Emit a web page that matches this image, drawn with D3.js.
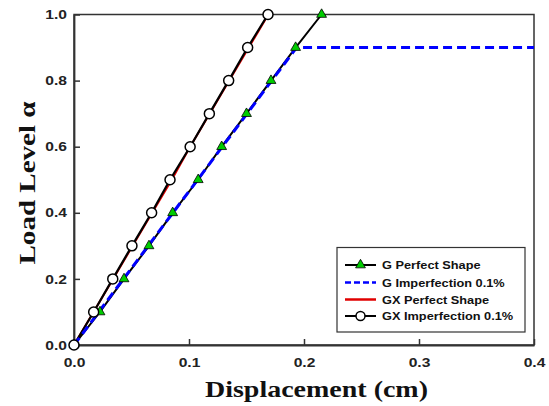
<!DOCTYPE html>
<html><head><meta charset="utf-8">
<script src="https://cdn.jsdelivr.net/npm/d3@7/dist/d3.min.js"></script>
<style>body{margin:0;background:#fff}svg{display:block}</style>
</head><body>
<svg id="c" width="549" height="406"></svg>
<script>
const loadLevels = [0,0.1,0.2,0.3,0.4,0.5,0.6,0.7,0.8,0.9,1.0];
const gPerfectX = [0,0.0226,0.0435,0.0652,0.0858,0.108,0.1284,0.150,0.1713,0.1927,0.2153];
const gImperfX = [0,0.0215,0.043,0.0645,0.086,0.1075,0.129,0.1505,0.172,0.1935,0.4];
const gImperfY = [0,0.1,0.2,0.3,0.4,0.5,0.6,0.7,0.8,0.9,0.9];
const gxPerfectX = [0,0.017,0.034,0.051,0.068,0.085,0.101,0.118,0.135,0.152,0.169];
const gxImperfX = [0,0.0171,0.0337,0.0504,0.0675,0.0835,0.101,0.1177,0.1345,0.151,0.1687];
const xTicks = [0,0.1,0.2,0.3,0.4];
const yTicks = [0,0.2,0.4,0.6,0.8,1.0];
const legendLabels = ["G Perfect Shape","G Imperfection 0.1%","GX Perfect Shape","GX Imperfection 0.1%"];

const svg = d3.select("#c");
const L=74,R=534,T=14.5,B=345;
const x = d3.scaleLinear().domain([0,0.4]).range([L,R]);
const y = d3.scaleLinear().domain([0,1]).range([B,T]);
const sans = "'Liberation Sans', Arial, sans-serif";
const serif = "'Liberation Serif', 'Times New Roman', serif";

function stretch(sel, f){
  sel.each(function(){
    const w = this.getComputedTextLength();
    d3.select(this).attr("textLength", w*f).attr("lengthAdjust","spacingAndGlyphs");
  });
}

// frame
svg.append("rect").attr("x",L).attr("y",T).attr("width",R-L).attr("height",B-T)
  .attr("fill","none").attr("stroke","#333").attr("stroke-width",1.5);

const xa = svg.append("g").attr("transform",`translate(0,${B})`)
  .call(d3.axisBottom(x).tickValues(xTicks).tickFormat(d3.format(".1f")).tickSizeInner(-6).tickSizeOuter(0).tickPadding(13));
const ya = svg.append("g").attr("transform",`translate(${L},0)`)
  .call(d3.axisLeft(y).tickValues(yTicks).tickFormat(d3.format(".1f")).tickSizeInner(-6).tickSizeOuter(0).tickPadding(7));
[xa,ya].forEach(a=>{
  a.select(".domain").attr("stroke","#333").attr("stroke-width",1.8);
  a.selectAll(".tick line").attr("stroke","#333").attr("stroke-width",1.5);
  a.selectAll(".tick text").attr("font-family",sans).attr("font-weight","bold").attr("font-size",13).attr("fill","#222");
  stretch(a.selectAll(".tick text"), 1.2);
});

const line = d3.line().x(d=>x(d[0])).y(d=>y(d[1]));
const gP = gPerfectX.map((v,i)=>[v,loadLevels[i]]);
const gI = gImperfX.map((v,i)=>[v,gImperfY[i]]);
const gxP = gxPerfectX.map((v,i)=>[v,loadLevels[i]]);
const gxI = gxImperfX.map((v,i)=>[v,loadLevels[i]]);

svg.append("path").datum(gxP).attr("d",line).attr("fill","none").attr("stroke","#e00000").attr("stroke-width",2);
svg.append("path").datum(gxI).attr("d",line).attr("fill","none").attr("stroke","#000").attr("stroke-width",2.2);
svg.append("path").datum(gP).attr("d",line).attr("fill","none").attr("stroke","#000").attr("stroke-width",2);
svg.append("path").datum(gI).attr("d",line).attr("fill","none").attr("stroke","#0000ff").attr("stroke-width",3).attr("stroke-dasharray","9,5");

const tri = d3.symbol().type(d3.symbolTriangle).size(42);
svg.selectAll(".tri").data(gP).join("path").attr("class","tri")
  .attr("transform",d=>`translate(${x(d[0])},${y(d[1])})`).attr("d",tri)
  .attr("fill","#00cc00").attr("stroke","#000").attr("stroke-width",0.8);
svg.selectAll(".circ").data(gxI).join("circle").attr("class","circ")
  .attr("cx",d=>x(d[0])).attr("cy",d=>y(d[1])).attr("r",5)
  .attr("fill","#fff").attr("stroke","#000").attr("stroke-width",1.5);

// axis titles
svg.append("text").attr("x",316.5).attr("y",397).attr("text-anchor","middle")
  .attr("font-family",serif).attr("font-weight","bold").attr("font-size",24).attr("fill","#111")
  .attr("textLength",223).attr("lengthAdjust","spacingAndGlyphs").text("Displacement (cm)");
svg.append("text").attr("transform","translate(35,183) rotate(-90)").attr("text-anchor","middle")
  .attr("font-family",serif).attr("font-weight","bold").attr("font-size",24).attr("fill","#111")
  .attr("textLength",163).attr("lengthAdjust","spacingAndGlyphs").text("Load Level α");

// legend
const lg = svg.append("g");
lg.append("rect").attr("x",337).attr("y",247.5).attr("width",188).attr("height",84.5)
  .attr("fill","#fff").attr("stroke","#333").attr("stroke-width",1.2);
const ly = [265,282.5,299.5,316];
const styles = [
  {stroke:"#000",w:2,dash:null,marker:"tri"},
  {stroke:"#0000ff",w:2.5,dash:"6,3",marker:null},
  {stroke:"#e00000",w:2.5,dash:null,marker:null},
  {stroke:"#000",w:2,dash:null,marker:"circ"}];
legendLabels.forEach((t,i)=>{
  const s=styles[i];
  lg.append("line").attr("x1",345).attr("x2",376).attr("y1",ly[i]).attr("y2",ly[i])
    .attr("stroke",s.stroke).attr("stroke-width",s.w).attr("stroke-dasharray",s.dash);
  if(s.marker==="tri") lg.append("path").attr("transform",`translate(360.5,${ly[i]})`).attr("d",tri)
    .attr("fill","#00cc00").attr("stroke","#000").attr("stroke-width",0.8);
  if(s.marker==="circ") lg.append("circle").attr("cx",360.5).attr("cy",ly[i]).attr("r",4.5)
    .attr("fill","#fff").attr("stroke","#000").attr("stroke-width",1.5);
  const tx = lg.append("text").attr("x",382).attr("y",ly[i]+4).attr("font-family",sans).attr("font-weight","bold")
    .attr("font-size",11).attr("fill","#111").text(t);
  stretch(tx, 1.16);
});
</script>
</body></html>
